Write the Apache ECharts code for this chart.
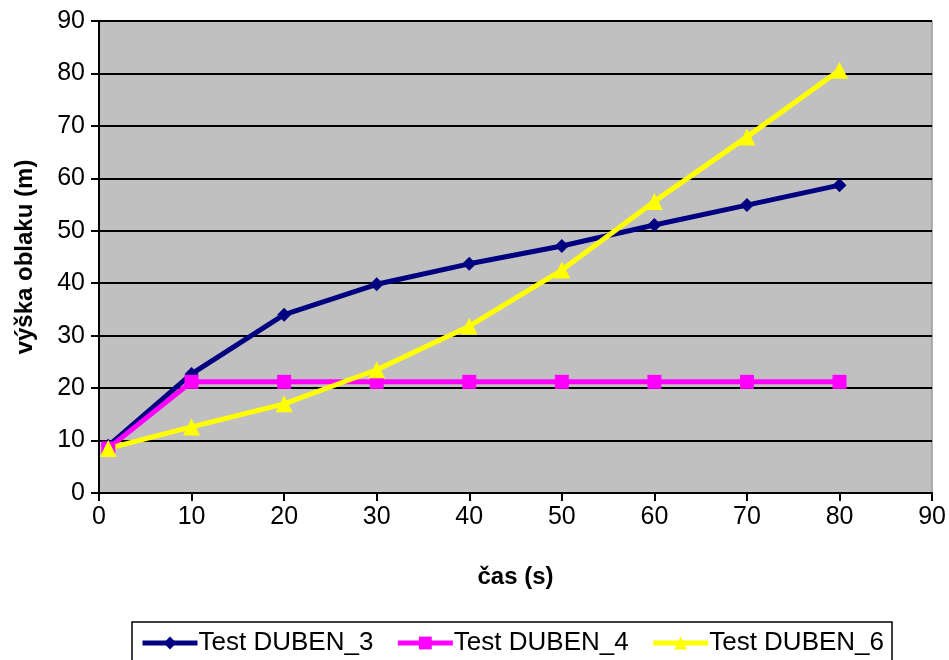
<!DOCTYPE html>
<html><head><meta charset="utf-8">
<script src="https://cdn.jsdelivr.net/npm/echarts@6/dist/echarts.min.js"></script>
<style>html,body{margin:0;padding:0;background:#fff}#c{width:949px;height:660px}</style>
</head><body><div id="c"></div>
<script>
const xValues = [1, 10, 20, 30, 40, 50, 60, 70, 80];
const duben3 = [9, 22.7, 34, 39.8, 43.7, 47.1, 51.1, 54.9, 58.7];
const duben4 = [8.5, 21.2, 21.2, 21.2, 21.2, 21.2, 21.2, 21.2, 21.2];
const duben6 = [8.5, 12.6, 17, 23.5, 31.8, 42.5, 55.6, 67.9, 80.6];
const seriesNames = ['Test DUBEN_3', 'Test DUBEN_4', 'Test DUBEN_6'];
const xAxisName = 'čas (s)';
const yAxisName = 'výška oblaku (m)';

const pairs = arr => xValues.map((x, i) => [x, arr[i]]);
const font = 'Liberation Sans, Arial, sans-serif';
const chart = echarts.init(document.getElementById('c'));
chart.setOption({
  animation: false,
  grid: { left: 99, right: 15, top: 21, bottom: 167, show: true, backgroundColor: '#c0c0c0', borderColor: '#808080', borderWidth: 1 },
  xAxis: {
    type: 'value', min: 0, max: 90, interval: 10,
    name: xAxisName, nameLocation: 'middle', nameGap: 72,
    nameTextStyle: { fontFamily: font, fontSize: 24, fontWeight: 'bold', color: '#000' },
    axisLine: { lineStyle: { color: '#000', width: 2 } },
    axisTick: { inside: false, length: 8, lineStyle: { color: '#000', width: 2 } },
    axisLabel: { fontFamily: font, fontSize: 25, color: '#000', margin: 12 },
    splitLine: { show: false }
  },
  yAxis: {
    type: 'value', min: 0, max: 90, interval: 10,
    name: yAxisName, nameLocation: 'middle', nameGap: 62, nameRotate: 90,
    nameTextStyle: { fontFamily: font, fontSize: 24, fontWeight: 'bold', color: '#000' },
    axisLine: { lineStyle: { color: '#000', width: 2 } },
    axisTick: { inside: false, length: 8, lineStyle: { color: '#000', width: 2 } },
    axisLabel: { fontFamily: font, fontSize: 25, color: '#000', margin: 14 },
    splitLine: { lineStyle: { color: '#000', width: 2 } }
  },
  legend: {
    data: seriesNames, left: 132, top: 622, width: 760,
    borderColor: '#000', borderWidth: 1.5, padding: [8, 8, 12, 8],
    itemWidth: 55, itemHeight: 16, itemGap: 22,
    lineStyle: { width: 5 },
    textStyle: { fontFamily: font, fontSize: 26, color: '#000', padding: [0, 0, 0, -4] }
  },
  series: [
    { name: seriesNames[0], type: 'line', data: pairs(duben3), symbol: 'diamond', symbolSize: 14,
      lineStyle: { color: '#000080', width: 5 }, itemStyle: { color: '#000080' } },
    { name: seriesNames[1], type: 'line', data: pairs(duben4), symbol: 'rect', symbolSize: 14,
      lineStyle: { color: '#ff00ff', width: 5 }, itemStyle: { color: '#ff00ff' } },
    { name: seriesNames[2], type: 'line', data: pairs(duben6), symbol: 'triangle', symbolSize: 17,
      lineStyle: { color: '#ffff00', width: 5 }, itemStyle: { color: '#ffff00' } }
  ]
});
</script></body></html>
